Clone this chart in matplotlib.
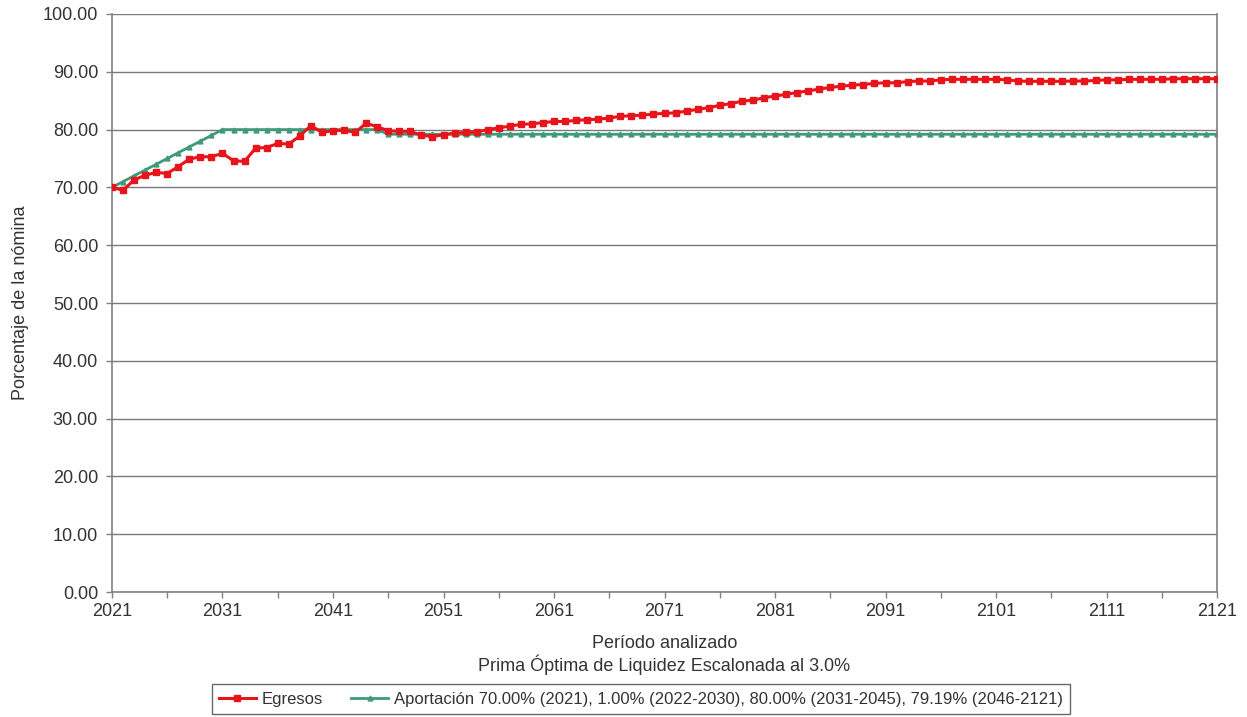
import numpy as np
import matplotlib.pyplot as plt

years = np.arange(2021, 2122)

egresos = [70.0, 69.5, 71.3, 72.1, 72.6, 72.4, 73.6, 74.9, 75.3, 75.3,
           75.9, 74.6, 74.5, 76.8, 76.9, 77.6, 77.5, 78.9, 80.7, 79.5,
           79.8, 79.9, 79.5, 81.1, 80.5, 79.8, 79.7, 79.7, 79.0, 78.8,
           79.1, 79.4, 79.5, 79.6, 80.0, 80.3, 80.6, 80.9, 81.0, 81.2,
           81.4, 81.4, 81.6, 81.7, 81.8, 82.0, 82.3, 82.4, 82.5, 82.7,
           82.8, 82.9, 83.2, 83.5, 83.8, 84.2, 84.5, 84.9, 85.1, 85.5,
           85.8, 86.1, 86.4, 86.7, 87.0, 87.3, 87.5, 87.7, 87.8, 88.0,
           88.1, 88.1, 88.3, 88.4, 88.4, 88.6, 88.7, 88.7, 88.7, 88.7,
           88.7, 88.6, 88.4, 88.35, 88.35, 88.35, 88.35, 88.4, 88.4, 88.5,
           88.6, 88.6, 88.7, 88.7, 88.7, 88.7, 88.8, 88.8, 88.8, 88.8,
           88.8]

aportacion = ([70.0] + [71.0 + i for i in range(9)] + [80.0] * 15
              + [79.19] * 76)

legend_red = "Egresos"
legend_green = ("Aportación 70.00% (2021), 1.00% (2022-2030), "
                "80.00% (2031-2045), 79.19% (2046-2121)")

plt.rcParams['font.family'] = ['Liberation Sans', 'DejaVu Sans']

fig = plt.figure(figsize=(12.47, 7.17), dpi=100)
ax = fig.add_axes([0.0898, 0.1743, 0.8862, 0.8062])

ax.plot(years, egresos, color="#e8141c", lw=2.2, marker="s", ms=5,
        label=legend_red, zorder=3)
ax.plot(years, aportacion, color="#3f9a7a", lw=2.0, marker="^", ms=3.5,
        label=legend_green, zorder=2)

ax.set_xlim(2021, 2121)
ax.set_ylim(0, 100)
ax.set_xticks(np.arange(2021, 2122, 10))
ax.set_xticks(np.arange(2026, 2122, 10), minor=True)
ax.set_yticks(np.arange(0, 101, 10))
ax.set_yticklabels([f"{v:.2f}" for v in np.arange(0, 101, 10)])
ax.yaxis.grid(True, color="#7a7a7a", lw=1)
ax.set_axisbelow(True)
for s in ax.spines.values():
    s.set_color("#808080")
    s.set_linewidth(1.2)
ax.spines['top'].set_visible(False)
ax.tick_params(labelcolor="#333333", labelsize=13, length=4, width=1,
               color="#808080")
ax.tick_params(axis='x', which='both', length=4, width=1, color="#808080", pad=4)
ax.tick_params(axis='y', pad=6)

ax.set_ylabel("Porcentaje de la nómina", fontsize=13, labelpad=10,
              color="#333333")
ax.set_xlabel("Período analizado\nPrima Óptima de Liquidez Escalonada al 3.0%",
              fontsize=13, labelpad=11, linespacing=1.15, color="#333333")

leg = fig.legend(loc="center", bbox_to_anchor=(0.514, 0.0245), ncol=2,
                 fontsize=12, frameon=True, fancybox=False,
                 edgecolor="#444444", handlelength=2.2, handletextpad=0.35,
                 columnspacing=1.7, borderpad=0.45)
leg.get_frame().set_linewidth(1)
for t in leg.get_texts():
    t.set_color("#333333")

fig.savefig("out.png", dpi=100, facecolor="white")
